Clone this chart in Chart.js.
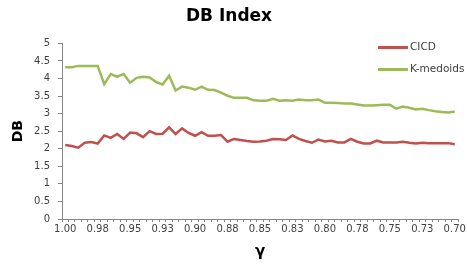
<!DOCTYPE html>
<html>
<head>
<meta charset="utf-8">
<script src="https://cdn.jsdelivr.net/npm/chart.js@4"></script>
<style>
  html, body { margin: 0; padding: 0; background: #fff; }
  #wrap { width: 467px; height: 273px; }
</style>
</head>
<body>
<div id="wrap"><canvas id="dbChart"></canvas></div>
<script>
// gamma steps, 1.000 down to 0.700
const gammaValues = [
  '1.000','0.995','0.990','0.985','0.980','0.975','0.970','0.965','0.960','0.955',
  '0.950','0.945','0.940','0.935','0.930','0.925','0.920','0.915','0.910','0.905',
  '0.900','0.895','0.890','0.885','0.880','0.875','0.870','0.865','0.860','0.855',
  '0.850','0.845','0.840','0.835','0.830','0.825','0.820','0.815','0.810','0.805',
  '0.800','0.795','0.790','0.785','0.780','0.775','0.770','0.765','0.760','0.755',
  '0.750','0.745','0.740','0.735','0.730','0.725','0.720','0.715','0.710','0.705',
  '0.700'
];
// labels shown under every 5th step
const tickLabels = ['1.00','0.98','0.95','0.93','0.90','0.88','0.85','0.83','0.80','0.78','0.75','0.73','0.70'];

const cicdValues = [
  2.11,2.08,2.03,2.17,2.19,2.15,2.38,2.31,2.42,2.28,
  2.46,2.44,2.33,2.50,2.42,2.43,2.61,2.42,2.58,2.45,
  2.37,2.47,2.37,2.37,2.39,2.20,2.28,2.25,2.22,2.20,
  2.21,2.23,2.28,2.27,2.25,2.38,2.28,2.22,2.17,2.26,
  2.21,2.23,2.18,2.18,2.28,2.20,2.15,2.15,2.23,2.18,
  2.18,2.18,2.20,2.17,2.15,2.17,2.16,2.16,2.16,2.16,2.13
];
const kmedoidsValues = [
  4.32,4.32,4.36,4.36,4.36,4.36,3.84,4.13,4.05,4.13,
  3.88,4.02,4.05,4.03,3.90,3.83,4.08,3.66,3.77,3.74,
  3.68,3.77,3.68,3.67,3.60,3.51,3.45,3.45,3.45,3.38,
  3.37,3.37,3.42,3.37,3.38,3.37,3.40,3.38,3.38,3.40,
  3.31,3.31,3.30,3.29,3.29,3.26,3.23,3.23,3.24,3.25,
  3.25,3.14,3.20,3.17,3.12,3.14,3.10,3.07,3.05,3.03,3.06
];

Chart.defaults.font.family = '"DejaVu Sans", sans-serif';

// legend sits inside the plot, top right (like the Excel one)
const cornerLegend = {
  id: 'cornerLegend',
  afterDraw(chart) {
    const ctx = chart.ctx;
    const rows = [47.5, 69.5];
    chart.data.datasets.forEach((ds, i) => {
      const y = rows[i];
      ctx.save();
      ctx.strokeStyle = ds.borderColor;
      ctx.lineWidth = 3;
      ctx.beginPath();
      ctx.moveTo(378, y);
      ctx.lineTo(408, y);
      ctx.stroke();
      ctx.fillStyle = '#404040';
      ctx.font = '10.5px "DejaVu Sans", sans-serif';
      ctx.textBaseline = 'middle';
      ctx.fillText(ds.label, 410, y);
      ctx.restore();
    });
  }
};

new Chart(document.getElementById('dbChart'), {
  type: 'line',
  data: {
    labels: gammaValues,
    datasets: [
      { label: 'CICD', data: cicdValues, borderColor: '#C0504D', borderWidth: 2.5,
        pointRadius: 0, fill: false, tension: 0 },
      { label: 'K-medoids', data: kmedoidsValues, borderColor: '#9BBB59', borderWidth: 2.5,
        pointRadius: 0, fill: false, tension: 0 }
    ]
  },
  options: {
    responsive: true, maintainAspectRatio: false, animation: false,
    layout: { padding: { left: 0, right: 9, top: 0, bottom: 0 } },
    plugins: {
      legend: { display: false },
      tooltip: { enabled: false },
      title: { display: true, text: 'DB Index', color: '#000',
        font: { size: 17, weight: 'bold' }, padding: { top: 6, bottom: 17 } }
    },
    scales: {
      x: {
        offset: true,
        grid: { display: true, drawOnChartArea: false, offset: true, tickLength: 3, color: '#868686' },
        border: { color: '#868686' },
        ticks: { autoSkip: false, maxRotation: 0, minRotation: 0, padding: 1,
          font: { size: 10 }, color: '#404040',
          callback: (v, i) => (i % 5 === 0 ? tickLabels[i / 5] : '') },
        title: { display: true, text: 'γ', color: '#000',
          font: { size: 15, weight: 'bold' }, padding: { top: 4, bottom: 12 } },
        afterFit: s => { s.height = 54; }
      },
      y: {
        min: 0, max: 5,
        ticks: { stepSize: 0.5, padding: 8, font: { size: 10 }, color: '#404040',
          callback: v => String(Number(v)) },
        grid: { drawOnChartArea: false, tickLength: 4, color: '#868686' },
        border: { color: '#868686' },
        title: { display: true, text: 'DB', color: '#000',
          font: { size: 14, weight: 'bold' }, padding: { top: 10, bottom: 0 } },
        afterFit: s => { s.width = 62; }
      }
    }
  },
  plugins: [cornerLegend]
});
</script>
</body>
</html>
